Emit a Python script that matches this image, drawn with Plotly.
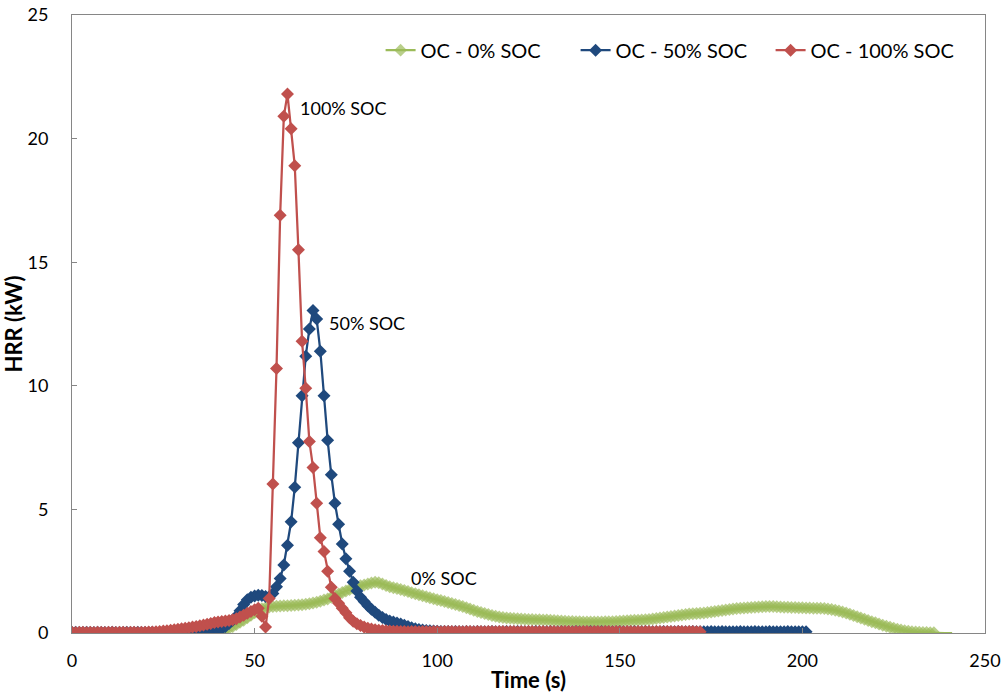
import plotly.graph_objects as go

# ---------------- data (time in s, HRR in kW) ----------------
green_values = [
    0, 0, 0, 0, 0, 0, 0, 0, 0, 0,
    0, 0, 0, 0, 0, 0, 0, 0, 0, 0,
    0, 0, 0, 0, 0, 0, 0, 0, 0, 0,
    0, 0, 0, 0, 0, 0, 0, 0, 0, 0.01,
    0.03, 0.08, 0.13, 0.19, 0.26, 0.34, 0.43, 0.52, 0.62, 0.72,
    0.82, 0.92, 0.98, 1.02, 1.05, 1.07, 1.08, 1.09, 1.10, 1.10,
    1.11, 1.12, 1.13, 1.14, 1.16, 1.18, 1.21, 1.24, 1.28, 1.33,
    1.38, 1.45, 1.52, 1.58, 1.64, 1.70, 1.76, 1.82, 1.87, 1.91,
    1.94, 1.98, 2.02, 2.05, 2.03, 1.98, 1.92, 1.87, 1.83, 1.80,
    1.76, 1.72, 1.68, 1.63, 1.59, 1.55, 1.51, 1.47, 1.43, 1.39,
    1.35, 1.31, 1.27, 1.23, 1.19, 1.15, 1.11, 1.07, 1.02, 0.97,
    0.92, 0.87, 0.83, 0.79, 0.75, 0.71, 0.68, 0.65, 0.63, 0.61,
    0.60, 0.59, 0.58, 0.57, 0.56, 0.55, 0.55, 0.54, 0.54, 0.53,
    0.53, 0.52, 0.51, 0.50, 0.49, 0.48, 0.47, 0.47, 0.46, 0.46,
    0.45, 0.45, 0.45, 0.45, 0.45, 0.45, 0.46, 0.46, 0.46, 0.47,
    0.48, 0.49, 0.50, 0.51, 0.52, 0.52, 0.53, 0.54, 0.55, 0.57,
    0.59, 0.61, 0.63, 0.65, 0.67, 0.69, 0.71, 0.73, 0.75, 0.77,
    0.78, 0.79, 0.80, 0.81, 0.83, 0.85, 0.87, 0.89, 0.91, 0.93,
    0.95, 0.97, 0.99, 1.00, 1.01, 1.02, 1.03, 1.04, 1.05, 1.06,
    1.07, 1.07, 1.07, 1.06, 1.05, 1.04, 1.04, 1.03, 1.03, 1.02,
    1.02, 1.01, 1.01, 1.00, 1.00, 1.00, 0.99, 0.97, 0.95, 0.92,
    0.89, 0.85, 0.81, 0.76, 0.71, 0.66, 0.61, 0.56, 0.51, 0.46,
    0.41, 0.36, 0.31, 0.27, 0.23, 0.19, 0.15, 0.12, 0.09, 0.07,
    0.05, 0.04, 0.03, 0.02, 0.02, 0.01, 0.01, 0, 0, 0,
    0, 0,
]
green_last_marker_time = 236  # markers end here, line continues

blue_values = [
    0.02, 0.03, 0.02, 0.02, 0.03, 0.02, 0.02, 0.03, 0.02, 0.02,
    0.02, 0.03, 0.02, 0.02, 0.02, 0.03, 0.02, 0.02, 0.03, 0.02,
    0.02, 0.02, 0.03, 0.02, 0.02, 0.02, 0.03, 0.02, 0.02, 0.02,
    0.02, 0.02, 0.02, 0.02, 0.02, 0.02, 0.02, 0.02, 0.04, 0.07,
    0.11, 0.17, 0.26, 0.38, 0.52, 0.68, 0.90, 1.15, 1.35, 1.45,
    1.50, 1.53, 1.52, 1.48, 1.47, 1.60, 1.87, 2.20, 2.75, 3.55,
    4.50, 5.90, 7.70, 9.60, 11.20, 12.30, 13.05, 12.70, 11.40, 9.60,
    7.80, 6.40, 5.25, 4.40, 3.60, 3.00, 2.50, 2.05, 1.70, 1.45,
    1.27, 1.10, 0.96, 0.84, 0.72, 0.63, 0.55, 0.49, 0.44, 0.40,
    0.36, 0.31, 0.26, 0.21, 0.17, 0.14, 0.12, 0.10, 0.09, 0.08,
    0.07, 0.06, 0.06, 0.06, 0.05, 0.06, 0.05, 0.05, 0.06, 0.05,
    0.05, 0.06, 0.05, 0.05, 0.05, 0.06, 0.05, 0.05, 0.05, 0.06,
    0.05, 0.05, 0.06, 0.05, 0.05, 0.05, 0.05, 0.06, 0.05, 0.05,
    0.05, 0.06, 0.05, 0.05, 0.06, 0.05, 0.05, 0.05, 0.06, 0.05,
    0.05, 0.05, 0.06, 0.05, 0.05, 0.06, 0.05, 0.05, 0.05, 0.05,
    0.06, 0.05, 0.05, 0.05, 0.06, 0.05, 0.05, 0.06, 0.05, 0.05,
    0.05, 0.05, 0.06, 0.05, 0.05, 0.05, 0.06, 0.05, 0.05, 0.05,
    0.06, 0.05, 0.05, 0.05, 0.05, 0.06, 0.05, 0.05, 0.06, 0.05,
    0.05, 0.05, 0.05, 0.06, 0.05, 0.05, 0.05, 0.06, 0.05, 0.05,
    0.05, 0.06, 0.05, 0.05, 0.05, 0.05, 0.06, 0.05, 0.05, 0.05,
    0.05, 0.05,
]

red_values = [
    0.03, 0.02, 0.03, 0.03, 0.02, 0.03, 0.02, 0.03, 0.03, 0.02,
    0.03, 0.03, 0.02, 0.03, 0.03, 0.02, 0.03, 0.03, 0.02, 0.03,
    0.03, 0.04, 0.04, 0.05, 0.06, 0.08, 0.09, 0.11, 0.13, 0.15,
    0.17, 0.19, 0.21, 0.24, 0.26, 0.29, 0.32, 0.35, 0.38, 0.42,
    0.45, 0.47, 0.49, 0.51, 0.54, 0.58, 0.65, 0.72, 0.80, 0.87,
    0.94, 1.00, 0.68, 0.24, 1.40, 6.03, 10.70, 16.90, 20.90, 21.80,
    20.40, 18.90, 15.50, 11.80, 9.90, 7.75, 6.70, 5.25, 3.85, 3.30,
    2.50, 1.85, 1.40, 1.20, 1.00, 0.82, 0.62, 0.48, 0.37, 0.30,
    0.24, 0.19, 0.16, 0.13, 0.11, 0.10, 0.09, 0.08, 0.07, 0.07,
    0.06, 0.06, 0.05, 0.06, 0.06, 0.05, 0.06, 0.06, 0.05, 0.06,
    0.06, 0.05, 0.06, 0.06, 0.06, 0.05, 0.06, 0.05, 0.06, 0.06,
    0.05, 0.06, 0.06, 0.05, 0.06, 0.06, 0.05, 0.06, 0.06, 0.05,
    0.06, 0.06, 0.05, 0.06, 0.05, 0.06, 0.06, 0.05, 0.06, 0.06,
    0.05, 0.06, 0.06, 0.05, 0.06, 0.06, 0.06, 0.05, 0.06, 0.05,
    0.06, 0.06, 0.05, 0.06, 0.06, 0.05, 0.06, 0.06, 0.05, 0.06,
    0.06, 0.05, 0.06, 0.06, 0.05, 0.06, 0.05, 0.06, 0.06, 0.05,
    0.06, 0.06, 0.05, 0.06, 0.06, 0.05, 0.06, 0.06, 0.05, 0.06,
    0.06, 0.05, 0.05,
]

series_names = ["OC - 0% SOC", "OC - 50% SOC", "OC - 100% SOC"]
series_colors = ["#9BBB59", "#1F497D", "#C0504D"]

annotation_texts = ["100% SOC", "50% SOC", "0% SOC"]
annotation_x = [61.9, 69.8, 92.2]
annotation_y = [21.25, 12.55, 2.23]

x_tick_values = [0, 50, 100, 150, 200, 250]
y_tick_values = [0, 5, 10, 15, 20, 25]

# ---------------- figure ----------------
FONT = "Lato, 'Open Sans', Arial, sans-serif"
MSIZE = 10

green_times = list(range(len(green_values)))
blue_times = list(range(len(blue_values)))
red_times = list(range(len(red_values)))

green_sizes = [MSIZE if t <= green_last_marker_time else 0 for t in green_times]

fig = go.Figure()
for name, color, xs, ys, sizes in [
    (series_names[0], series_colors[0], green_times, green_values, green_sizes),
    (series_names[1], series_colors[1], blue_times, blue_values, MSIZE),
    (series_names[2], series_colors[2], red_times, red_values, MSIZE),
]:
    fig.add_trace(go.Scatter(
        x=xs, y=ys, name=name, mode="lines+markers",
        line=dict(color=color, width=2.25),
        marker=dict(symbol="diamond", size=sizes, color=color,
                    line=dict(width=0)),
    ))

for txt, ax, ay in zip(annotation_texts, annotation_x, annotation_y):
    fig.add_annotation(x=ax, y=ay, text=txt, showarrow=False,
                       xanchor="left", yanchor="middle",
                       font=dict(family=FONT, size=18, color="#000000"))

axis_common = dict(
    showline=True, linecolor="#868686", linewidth=1, mirror=True,
    ticks="inside", ticklen=5, tickcolor="#868686",
    showgrid=False, zeroline=False, automargin=False,
    tickfont=dict(family=FONT, size=18, color="#000000"),
)

fig.update_layout(
    width=1006, height=694,
    margin=dict(l=72, r=21, t=15, b=61),
    paper_bgcolor="white", plot_bgcolor="white",
    font=dict(family=FONT, color="#000000"),
    xaxis=dict(range=[0, 250], tickvals=x_tick_values,
               title=dict(text="<b>Time (s)</b>", standoff=3,
                          font=dict(family=FONT, size=22)),
               ticklabelstandoff=11, **axis_common),
    yaxis=dict(range=[0, 25], tickvals=y_tick_values,
               title=dict(text="<b>HRR (kW)</b>", standoff=4,
                          font=dict(family=FONT, size=22)),
               ticklabelstandoff=19, **axis_common),
    legend=dict(orientation="h", x=0.338, xanchor="left",
                y=0.943, yanchor="middle",
                bgcolor="rgba(0,0,0,0)",
                font=dict(family=FONT, size=20, color="#000000"),
                entrywidth=150, itemwidth=30),
    showlegend=True,
)

fig.write_html("out.html", config={"displayModeBar": False},
               post_script="document.body.style.margin='0';")
